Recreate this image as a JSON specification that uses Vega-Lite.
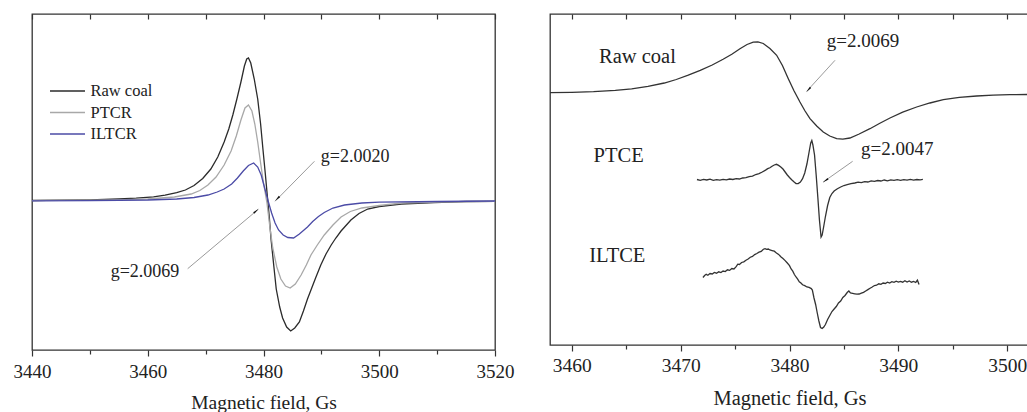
{
  "$schema": "https://vega.github.io/schema/vega-lite/v6.json",
  "padding": {"left": 12, "top": 12, "right": 0, "bottom": 0},
  "background": "white",
  "spacing": 55,
  "bounds": "flush",
  "config": {
    "view": {"stroke": "#333", "strokeWidth": 1.3},
    "font": "Liberation Serif"
  },
  "datasets": {
    "leftCurves": [
      {"s": "Raw coal", "x": 3440, "y": 0.5}, {"s": "Raw coal", "x": 3445, "y": 0.8}, {"s": "Raw coal", "x": 3450, "y": 1.2}, {"s": "Raw coal", "x": 3455, "y": 2}, {"s": "Raw coal", "x": 3458, "y": 2.8}, {"s": "Raw coal", "x": 3461, "y": 4.2}, {"s": "Raw coal", "x": 3463, "y": 5.8}, {"s": "Raw coal", "x": 3465, "y": 8.3}, {"s": "Raw coal", "x": 3466.5, "y": 11}, {"s": "Raw coal", "x": 3468, "y": 15.5}, {"s": "Raw coal", "x": 3469.5, "y": 22.5}, {"s": "Raw coal", "x": 3470.9, "y": 32}, {"s": "Raw coal", "x": 3472.1, "y": 44}, {"s": "Raw coal", "x": 3473.2, "y": 59}, {"s": "Raw coal", "x": 3474.0, "y": 72}, {"s": "Raw coal", "x": 3474.7, "y": 86}, {"s": "Raw coal", "x": 3475.4, "y": 102}, {"s": "Raw coal", "x": 3476.1, "y": 119}, {"s": "Raw coal", "x": 3476.7, "y": 135}, {"s": "Raw coal", "x": 3477.1, "y": 142}, {"s": "Raw coal", "x": 3477.4, "y": 143}, {"s": "Raw coal", "x": 3477.8, "y": 138}, {"s": "Raw coal", "x": 3478.4, "y": 122}, {"s": "Raw coal", "x": 3479.0, "y": 102}, {"s": "Raw coal", "x": 3479.5, "y": 77}, {"s": "Raw coal", "x": 3479.9, "y": 52}, {"s": "Raw coal", "x": 3480.3, "y": 28}, {"s": "Raw coal", "x": 3480.6, "y": 9}, {"s": "Raw coal", "x": 3481.0, "y": -16}, {"s": "Raw coal", "x": 3481.3, "y": -38}, {"s": "Raw coal", "x": 3481.8, "y": -66}, {"s": "Raw coal", "x": 3482.2, "y": -88}, {"s": "Raw coal", "x": 3482.8, "y": -106}, {"s": "Raw coal", "x": 3483.3, "y": -117}, {"s": "Raw coal", "x": 3484.0, "y": -126}, {"s": "Raw coal", "x": 3484.7, "y": -130}, {"s": "Raw coal", "x": 3485.4, "y": -127}, {"s": "Raw coal", "x": 3486.2, "y": -121}, {"s": "Raw coal", "x": 3486.9, "y": -110}, {"s": "Raw coal", "x": 3487.6, "y": -98}, {"s": "Raw coal", "x": 3488.2, "y": -89}, {"s": "Raw coal", "x": 3489.0, "y": -77}, {"s": "Raw coal", "x": 3489.9, "y": -64}, {"s": "Raw coal", "x": 3490.8, "y": -53}, {"s": "Raw coal", "x": 3491.7, "y": -44}, {"s": "Raw coal", "x": 3492.5, "y": -37}, {"s": "Raw coal", "x": 3493.4, "y": -30}, {"s": "Raw coal", "x": 3495.1, "y": -19}, {"s": "Raw coal", "x": 3496.5, "y": -12.5}, {"s": "Raw coal", "x": 3498.0, "y": -8}, {"s": "Raw coal", "x": 3500, "y": -5.5}, {"s": "Raw coal", "x": 3503.8, "y": -3}, {"s": "Raw coal", "x": 3509.5, "y": -1.5}, {"s": "Raw coal", "x": 3515, "y": -0.5}, {"s": "Raw coal", "x": 3520, "y": -0.3},
      {"s": "PTCR", "x": 3440, "y": 0.3}, {"s": "PTCR", "x": 3450, "y": 0.8}, {"s": "PTCR", "x": 3455, "y": 1.2}, {"s": "PTCR", "x": 3460, "y": 2}, {"s": "PTCR", "x": 3464.6, "y": 4}, {"s": "PTCR", "x": 3467.5, "y": 7}, {"s": "PTCR", "x": 3469, "y": 10.5}, {"s": "PTCR", "x": 3470.4, "y": 16}, {"s": "PTCR", "x": 3471.8, "y": 24}, {"s": "PTCR", "x": 3473.2, "y": 36}, {"s": "PTCR", "x": 3474.4, "y": 50}, {"s": "PTCR", "x": 3475.3, "y": 65}, {"s": "PTCR", "x": 3476.1, "y": 81}, {"s": "PTCR", "x": 3476.8, "y": 93}, {"s": "PTCR", "x": 3477.4, "y": 96}, {"s": "PTCR", "x": 3478.0, "y": 90}, {"s": "PTCR", "x": 3478.5, "y": 77}, {"s": "PTCR", "x": 3479.0, "y": 59}, {"s": "PTCR", "x": 3479.5, "y": 38}, {"s": "PTCR", "x": 3480.0, "y": 18}, {"s": "PTCR", "x": 3480.6, "y": -2}, {"s": "PTCR", "x": 3481.1, "y": -26}, {"s": "PTCR", "x": 3481.6, "y": -47}, {"s": "PTCR", "x": 3482.3, "y": -66}, {"s": "PTCR", "x": 3483.0, "y": -78}, {"s": "PTCR", "x": 3483.8, "y": -85}, {"s": "PTCR", "x": 3484.6, "y": -87}, {"s": "PTCR", "x": 3485.5, "y": -83}, {"s": "PTCR", "x": 3486.5, "y": -74}, {"s": "PTCR", "x": 3487.4, "y": -64}, {"s": "PTCR", "x": 3488.2, "y": -54}, {"s": "PTCR", "x": 3489.3, "y": -44}, {"s": "PTCR", "x": 3490.5, "y": -34}, {"s": "PTCR", "x": 3492, "y": -24}, {"s": "PTCR", "x": 3493.4, "y": -16}, {"s": "PTCR", "x": 3495, "y": -10.5}, {"s": "PTCR", "x": 3497, "y": -7}, {"s": "PTCR", "x": 3500, "y": -4.5}, {"s": "PTCR", "x": 3504, "y": -2}, {"s": "PTCR", "x": 3510, "y": -1}, {"s": "PTCR", "x": 3520, "y": -0.3},
      {"s": "ILTCR", "x": 3440, "y": 0.2}, {"s": "ILTCR", "x": 3450, "y": 0.4}, {"s": "ILTCR", "x": 3460, "y": 1}, {"s": "ILTCR", "x": 3465, "y": 2}, {"s": "ILTCR", "x": 3468, "y": 3.5}, {"s": "ILTCR", "x": 3470.4, "y": 6}, {"s": "ILTCR", "x": 3472, "y": 9}, {"s": "ILTCR", "x": 3473.2, "y": 12}, {"s": "ILTCR", "x": 3474.5, "y": 17}, {"s": "ILTCR", "x": 3475.5, "y": 23}, {"s": "ILTCR", "x": 3476.5, "y": 30}, {"s": "ILTCR", "x": 3477.4, "y": 35.5}, {"s": "ILTCR", "x": 3478.3, "y": 38}, {"s": "ILTCR", "x": 3479.0, "y": 34}, {"s": "ILTCR", "x": 3479.6, "y": 26}, {"s": "ILTCR", "x": 3480.2, "y": 13}, {"s": "ILTCR", "x": 3480.8, "y": 0}, {"s": "ILTCR", "x": 3481.4, "y": -12}, {"s": "ILTCR", "x": 3482.0, "y": -22}, {"s": "ILTCR", "x": 3482.6, "y": -29}, {"s": "ILTCR", "x": 3483.4, "y": -34}, {"s": "ILTCR", "x": 3484.2, "y": -36.5}, {"s": "ILTCR", "x": 3485.2, "y": -37}, {"s": "ILTCR", "x": 3486.2, "y": -33}, {"s": "ILTCR", "x": 3487.0, "y": -29}, {"s": "ILTCR", "x": 3487.6, "y": -26}, {"s": "ILTCR", "x": 3488.5, "y": -20.5}, {"s": "ILTCR", "x": 3489.5, "y": -15.5}, {"s": "ILTCR", "x": 3490.5, "y": -11.5}, {"s": "ILTCR", "x": 3492, "y": -7}, {"s": "ILTCR", "x": 3494, "y": -4}, {"s": "ILTCR", "x": 3497, "y": -2}, {"s": "ILTCR", "x": 3500, "y": -1.2}, {"s": "ILTCR", "x": 3510, "y": -0.5}, {"s": "ILTCR", "x": 3520, "y": 0}
    ],
    "leftArrows": [
      {"x": 3488.8, "y": 39.7, "x2": 3482.0, "y2": -0.3},
      {"x": 3466.9, "y": -67.7, "x2": 3479.1, "y2": -8.3}
    ],
    "leftHeads": [
      {"x": 3482.5, "y": 3, "ang": 225},
      {"x": 3478.6, "y": -10.6, "ang": 50}
    ],
    "leftNotes": [
      {"x": 3489.9, "y": 44, "t": "g=2.0020"},
      {"x": 3453.6, "y": -71, "t": "g=2.0069"}
    ],
    "rightCurves": [
      {"s": "Raw coal", "x": 3458.0, "y": 252.3}, {"s": "Raw coal", "x": 3460.0, "y": 252.7}, {"s": "Raw coal", "x": 3462.0, "y": 253.3}, {"s": "Raw coal", "x": 3464.0, "y": 254.6}, {"s": "Raw coal", "x": 3465.5, "y": 256.2}, {"s": "Raw coal", "x": 3467.0, "y": 258.6}, {"s": "Raw coal", "x": 3468.5, "y": 262.0}, {"s": "Raw coal", "x": 3469.6, "y": 265.5}, {"s": "Raw coal", "x": 3470.7, "y": 269.8}, {"s": "Raw coal", "x": 3471.8, "y": 274.7}, {"s": "Raw coal", "x": 3472.9, "y": 280.0}, {"s": "Raw coal", "x": 3473.9, "y": 285.7}, {"s": "Raw coal", "x": 3474.7, "y": 290.8}, {"s": "Raw coal", "x": 3475.45, "y": 296.3}, {"s": "Raw coal", "x": 3476.1, "y": 300.5}, {"s": "Raw coal", "x": 3476.67, "y": 302.8}, {"s": "Raw coal", "x": 3477.1, "y": 303.2}, {"s": "Raw coal", "x": 3477.59, "y": 301.5}, {"s": "Raw coal", "x": 3478.2, "y": 296.5}, {"s": "Raw coal", "x": 3478.82, "y": 289.7}, {"s": "Raw coal", "x": 3479.35, "y": 279.5}, {"s": "Raw coal", "x": 3479.89, "y": 266.3}, {"s": "Raw coal", "x": 3480.4, "y": 254.5}, {"s": "Raw coal", "x": 3480.96, "y": 243.0}, {"s": "Raw coal", "x": 3481.4, "y": 234.5}, {"s": "Raw coal", "x": 3481.88, "y": 226.3}, {"s": "Raw coal", "x": 3482.5, "y": 219.0}, {"s": "Raw coal", "x": 3483.1, "y": 213.0}, {"s": "Raw coal", "x": 3483.7, "y": 209.0}, {"s": "Raw coal", "x": 3484.33, "y": 206.3}, {"s": "Raw coal", "x": 3484.9, "y": 205.9}, {"s": "Raw coal", "x": 3485.55, "y": 207.0}, {"s": "Raw coal", "x": 3486.4, "y": 211.0}, {"s": "Raw coal", "x": 3487.39, "y": 216.3}, {"s": "Raw coal", "x": 3488.3, "y": 221.7}, {"s": "Raw coal", "x": 3489.23, "y": 227.0}, {"s": "Raw coal", "x": 3490.4, "y": 232.8}, {"s": "Raw coal", "x": 3491.68, "y": 238.0}, {"s": "Raw coal", "x": 3492.9, "y": 242.0}, {"s": "Raw coal", "x": 3494.13, "y": 245.3}, {"s": "Raw coal", "x": 3495.6, "y": 247.6}, {"s": "Raw coal", "x": 3497.19, "y": 249.0}, {"s": "Raw coal", "x": 3498.7, "y": 249.9}, {"s": "Raw coal", "x": 3500.25, "y": 250.3}, {"s": "Raw coal", "x": 3501.9, "y": 250.5},
      {"s": "PTCE", "x": 3471.5, "y": 165.5}, {"s": "PTCE", "x": 3471.8, "y": 164.6}, {"s": "PTCE", "x": 3472.1, "y": 165.6}, {"s": "PTCE", "x": 3472.4, "y": 165.0}, {"s": "PTCE", "x": 3472.7, "y": 165.8}, {"s": "PTCE", "x": 3473.0, "y": 164.7}, {"s": "PTCE", "x": 3473.3, "y": 165.4}, {"s": "PTCE", "x": 3473.6, "y": 164.8}, {"s": "PTCE", "x": 3473.9, "y": 165.6}, {"s": "PTCE", "x": 3474.2, "y": 165.1}, {"s": "PTCE", "x": 3474.5, "y": 166.0}, {"s": "PTCE", "x": 3474.8, "y": 165.5}, {"s": "PTCE", "x": 3475.1, "y": 166.4}, {"s": "PTCE", "x": 3475.4, "y": 166.0}, {"s": "PTCE", "x": 3475.7, "y": 167.0}, {"s": "PTCE", "x": 3476.0, "y": 167.3}, {"s": "PTCE", "x": 3476.3, "y": 168.4}, {"s": "PTCE", "x": 3476.6, "y": 168.8}, {"s": "PTCE", "x": 3476.9, "y": 170.5}, {"s": "PTCE", "x": 3477.2, "y": 171.4}, {"s": "PTCE", "x": 3477.5, "y": 173.0}, {"s": "PTCE", "x": 3477.8, "y": 174.9}, {"s": "PTCE", "x": 3478.0, "y": 176.3}, {"s": "PTCE", "x": 3478.2, "y": 177.2}, {"s": "PTCE", "x": 3478.4, "y": 178.8}, {"s": "PTCE", "x": 3478.6, "y": 180.0}, {"s": "PTCE", "x": 3478.8, "y": 180.7}, {"s": "PTCE", "x": 3479.0, "y": 179.6}, {"s": "PTCE", "x": 3479.2, "y": 178.0}, {"s": "PTCE", "x": 3479.4, "y": 176.0}, {"s": "PTCE", "x": 3479.6, "y": 173.0}, {"s": "PTCE", "x": 3479.8, "y": 170.0}, {"s": "PTCE", "x": 3480.0, "y": 167.5}, {"s": "PTCE", "x": 3480.2, "y": 165.3}, {"s": "PTCE", "x": 3480.4, "y": 163.2}, {"s": "PTCE", "x": 3480.6, "y": 161.5}, {"s": "PTCE", "x": 3480.8, "y": 161.4}, {"s": "PTCE", "x": 3481.0, "y": 163.0}, {"s": "PTCE", "x": 3481.2, "y": 166.3}, {"s": "PTCE", "x": 3481.4, "y": 172.0}, {"s": "PTCE", "x": 3481.6, "y": 181.0}, {"s": "PTCE", "x": 3481.8, "y": 193.0}, {"s": "PTCE", "x": 3481.95, "y": 202.0}, {"s": "PTCE", "x": 3482.05, "y": 204.5}, {"s": "PTCE", "x": 3482.15, "y": 200.0}, {"s": "PTCE", "x": 3482.3, "y": 190.0}, {"s": "PTCE", "x": 3482.45, "y": 170.0}, {"s": "PTCE", "x": 3482.6, "y": 148.0}, {"s": "PTCE", "x": 3482.75, "y": 125.0}, {"s": "PTCE", "x": 3482.9, "y": 108.0}, {"s": "PTCE", "x": 3483.0, "y": 110.0}, {"s": "PTCE", "x": 3483.15, "y": 119.0}, {"s": "PTCE", "x": 3483.3, "y": 128.5}, {"s": "PTCE", "x": 3483.5, "y": 139.5}, {"s": "PTCE", "x": 3483.7, "y": 147.5}, {"s": "PTCE", "x": 3483.9, "y": 151.5}, {"s": "PTCE", "x": 3484.1, "y": 154.0}, {"s": "PTCE", "x": 3484.4, "y": 156.3}, {"s": "PTCE", "x": 3484.7, "y": 158.0}, {"s": "PTCE", "x": 3485.0, "y": 159.5}, {"s": "PTCE", "x": 3485.3, "y": 160.3}, {"s": "PTCE", "x": 3485.65, "y": 161.3}, {"s": "PTCE", "x": 3486.0, "y": 162.0}, {"s": "PTCE", "x": 3486.3, "y": 162.8}, {"s": "PTCE", "x": 3486.6, "y": 162.3}, {"s": "PTCE", "x": 3486.9, "y": 163.4}, {"s": "PTCE", "x": 3487.2, "y": 163.0}, {"s": "PTCE", "x": 3487.5, "y": 164.2}, {"s": "PTCE", "x": 3487.8, "y": 163.6}, {"s": "PTCE", "x": 3488.1, "y": 164.5}, {"s": "PTCE", "x": 3488.4, "y": 164.0}, {"s": "PTCE", "x": 3488.7, "y": 165.0}, {"s": "PTCE", "x": 3489.0, "y": 164.2}, {"s": "PTCE", "x": 3489.3, "y": 165.1}, {"s": "PTCE", "x": 3489.6, "y": 164.6}, {"s": "PTCE", "x": 3489.9, "y": 165.3}, {"s": "PTCE", "x": 3490.2, "y": 164.7}, {"s": "PTCE", "x": 3490.5, "y": 165.4}, {"s": "PTCE", "x": 3490.8, "y": 164.9}, {"s": "PTCE", "x": 3491.1, "y": 165.6}, {"s": "PTCE", "x": 3491.4, "y": 164.8}, {"s": "PTCE", "x": 3491.7, "y": 165.5}, {"s": "PTCE", "x": 3492.0, "y": 165.2}, {"s": "PTCE", "x": 3492.25, "y": 165.7},
      {"s": "ILTCE", "x": 3472.05, "y": 67.5}, {"s": "ILTCE", "x": 3472.2, "y": 69.5}, {"s": "ILTCE", "x": 3472.35, "y": 70.8}, {"s": "ILTCE", "x": 3472.5, "y": 69.8}, {"s": "ILTCE", "x": 3472.7, "y": 71.5}, {"s": "ILTCE", "x": 3472.9, "y": 71.0}, {"s": "ILTCE", "x": 3473.1, "y": 72.6}, {"s": "ILTCE", "x": 3473.3, "y": 71.8}, {"s": "ILTCE", "x": 3473.5, "y": 73.2}, {"s": "ILTCE", "x": 3473.7, "y": 72.5}, {"s": "ILTCE", "x": 3473.9, "y": 74.0}, {"s": "ILTCE", "x": 3474.1, "y": 73.4}, {"s": "ILTCE", "x": 3474.3, "y": 75.2}, {"s": "ILTCE", "x": 3474.5, "y": 74.6}, {"s": "ILTCE", "x": 3474.7, "y": 76.5}, {"s": "ILTCE", "x": 3474.9, "y": 76.0}, {"s": "ILTCE", "x": 3475.1, "y": 78.3}, {"s": "ILTCE", "x": 3475.25, "y": 80.8}, {"s": "ILTCE", "x": 3475.4, "y": 80.5}, {"s": "ILTCE", "x": 3475.6, "y": 82.5}, {"s": "ILTCE", "x": 3475.8, "y": 83.2}, {"s": "ILTCE", "x": 3476.0, "y": 84.8}, {"s": "ILTCE", "x": 3476.2, "y": 86.0}, {"s": "ILTCE", "x": 3476.4, "y": 87.8}, {"s": "ILTCE", "x": 3476.6, "y": 88.6}, {"s": "ILTCE", "x": 3476.8, "y": 90.4}, {"s": "ILTCE", "x": 3477.0, "y": 91.5}, {"s": "ILTCE", "x": 3477.2, "y": 92.8}, {"s": "ILTCE", "x": 3477.4, "y": 93.6}, {"s": "ILTCE", "x": 3477.6, "y": 95.8}, {"s": "ILTCE", "x": 3477.75, "y": 96.4}, {"s": "ILTCE", "x": 3477.9, "y": 95.6}, {"s": "ILTCE", "x": 3478.05, "y": 96.0}, {"s": "ILTCE", "x": 3478.2, "y": 95.0}, {"s": "ILTCE", "x": 3478.4, "y": 94.4}, {"s": "ILTCE", "x": 3478.6, "y": 93.8}, {"s": "ILTCE", "x": 3478.8, "y": 92.0}, {"s": "ILTCE", "x": 3479.0, "y": 90.6}, {"s": "ILTCE", "x": 3479.2, "y": 88.2}, {"s": "ILTCE", "x": 3479.4, "y": 86.5}, {"s": "ILTCE", "x": 3479.6, "y": 84.4}, {"s": "ILTCE", "x": 3479.8, "y": 82.0}, {"s": "ILTCE", "x": 3480.0, "y": 79.4}, {"s": "ILTCE", "x": 3480.15, "y": 76.0}, {"s": "ILTCE", "x": 3480.3, "y": 73.8}, {"s": "ILTCE", "x": 3480.45, "y": 70.5}, {"s": "ILTCE", "x": 3480.6, "y": 68.0}, {"s": "ILTCE", "x": 3480.75, "y": 65.8}, {"s": "ILTCE", "x": 3480.9, "y": 63.2}, {"s": "ILTCE", "x": 3481.05, "y": 62.0}, {"s": "ILTCE", "x": 3481.2, "y": 60.2}, {"s": "ILTCE", "x": 3481.4, "y": 59.4}, {"s": "ILTCE", "x": 3481.6, "y": 58.0}, {"s": "ILTCE", "x": 3481.8, "y": 57.6}, {"s": "ILTCE", "x": 3482.0, "y": 56.4}, {"s": "ILTCE", "x": 3482.1, "y": 55.0}, {"s": "ILTCE", "x": 3482.25, "y": 47.0}, {"s": "ILTCE", "x": 3482.4, "y": 40.5}, {"s": "ILTCE", "x": 3482.55, "y": 32.0}, {"s": "ILTCE", "x": 3482.7, "y": 24.0}, {"s": "ILTCE", "x": 3482.85, "y": 17.5}, {"s": "ILTCE", "x": 3483.0, "y": 16.5}, {"s": "ILTCE", "x": 3483.15, "y": 18.0}, {"s": "ILTCE", "x": 3483.3, "y": 20.5}, {"s": "ILTCE", "x": 3483.5, "y": 25.5}, {"s": "ILTCE", "x": 3483.7, "y": 29.5}, {"s": "ILTCE", "x": 3483.9, "y": 33.5}, {"s": "ILTCE", "x": 3484.1, "y": 36.0}, {"s": "ILTCE", "x": 3484.3, "y": 38.5}, {"s": "ILTCE", "x": 3484.5, "y": 42.0}, {"s": "ILTCE", "x": 3484.7, "y": 44.0}, {"s": "ILTCE", "x": 3484.9, "y": 47.5}, {"s": "ILTCE", "x": 3485.1, "y": 49.5}, {"s": "ILTCE", "x": 3485.3, "y": 52.5}, {"s": "ILTCE", "x": 3485.45, "y": 54.0}, {"s": "ILTCE", "x": 3485.6, "y": 52.0}, {"s": "ILTCE", "x": 3485.8, "y": 51.6}, {"s": "ILTCE", "x": 3486.0, "y": 51.2}, {"s": "ILTCE", "x": 3486.2, "y": 50.8}, {"s": "ILTCE", "x": 3486.4, "y": 51.0}, {"s": "ILTCE", "x": 3486.6, "y": 51.8}, {"s": "ILTCE", "x": 3486.8, "y": 52.6}, {"s": "ILTCE", "x": 3487.0, "y": 54.0}, {"s": "ILTCE", "x": 3487.2, "y": 55.4}, {"s": "ILTCE", "x": 3487.4, "y": 56.8}, {"s": "ILTCE", "x": 3487.6, "y": 58.0}, {"s": "ILTCE", "x": 3487.8, "y": 59.5}, {"s": "ILTCE", "x": 3488.0, "y": 59.8}, {"s": "ILTCE", "x": 3488.2, "y": 61.2}, {"s": "ILTCE", "x": 3488.4, "y": 60.6}, {"s": "ILTCE", "x": 3488.6, "y": 62.0}, {"s": "ILTCE", "x": 3488.8, "y": 61.5}, {"s": "ILTCE", "x": 3489.0, "y": 62.8}, {"s": "ILTCE", "x": 3489.2, "y": 62.0}, {"s": "ILTCE", "x": 3489.4, "y": 63.4}, {"s": "ILTCE", "x": 3489.6, "y": 62.6}, {"s": "ILTCE", "x": 3489.8, "y": 63.8}, {"s": "ILTCE", "x": 3490.0, "y": 62.9}, {"s": "ILTCE", "x": 3490.2, "y": 63.6}, {"s": "ILTCE", "x": 3490.4, "y": 62.8}, {"s": "ILTCE", "x": 3490.6, "y": 64.2}, {"s": "ILTCE", "x": 3490.8, "y": 63.0}, {"s": "ILTCE", "x": 3491.0, "y": 64.0}, {"s": "ILTCE", "x": 3491.2, "y": 62.8}, {"s": "ILTCE", "x": 3491.4, "y": 63.6}, {"s": "ILTCE", "x": 3491.6, "y": 62.5}, {"s": "ILTCE", "x": 3491.75, "y": 64.8}, {"s": "ILTCE", "x": 3491.9, "y": 60.5}
    ],
    "rightArrows": [
      {"x": 3484.18, "y": 284.7, "x2": 3481.58, "y2": 253.7},
      {"x": 3485.8, "y": 183.7, "x2": 3483.1, "y2": 163}
    ],
    "rightHeads": [
      {"x": 3481.8, "y": 256, "ang": 222},
      {"x": 3483.38, "y": 165, "ang": 235}
    ],
    "rightNotes": [
      {"x": 3462.5, "y": 288, "t": "Raw coal", "fs": 20.5},
      {"x": 3462.0, "y": 189, "t": "PTCE", "fs": 20.5},
      {"x": 3461.6, "y": 89, "t": "ILTCE", "fs": 20.5},
      {"x": 3483.43, "y": 303.7, "t": "g=2.0069", "fs": 19},
      {"x": 3486.56, "y": 196.3, "t": "g=2.0047", "fs": 19}
    ]
  },
  "hconcat": [
    {
      "width": 463,
      "height": 336,
      "resolve": {"axis": {"x": "independent"}},
      "layer": [
        {
          "data": {"name": "leftCurves"},
          "mark": {"type": "line", "strokeWidth": 1.3},
          "encoding": {
            "x": {
              "field": "x", "type": "quantitative",
              "scale": {"domain": [3440, 3520], "nice": false, "zero": false},
              "axis": {
                "orient": "bottom",
                "values": [3440, 3450, 3460, 3470, 3480, 3490, 3500, 3510, 3520],
                "format": "d",
                "labelExpr": "datum.value % 20 === 0 ? datum.label : ''",
                "tickSize": {"condition": {"test": "datum.value % 20 === 0", "value": 6}, "value": 4},
                "tickColor": "#333", "tickWidth": 1.2,
                "domain": false, "grid": false,
                "labelFlush": false, "labelOverlap": false, "labelBound": false,
                "labelFont": "Liberation Serif", "labelFontSize": 19, "labelColor": "#222", "labelPadding": 6,
                "title": "Magnetic field, Gs", "titleFont": "Liberation Serif", "titleFontSize": 19.5,
                "titleFontWeight": "normal", "titleColor": "#222", "titlePadding": 12
              }
            },
            "y": {"field": "y", "type": "quantitative", "scale": {"domain": [-149, 187], "nice": false, "zero": false}, "axis": null},
            "color": {
              "field": "s", "type": "nominal",
              "scale": {"domain": ["Raw coal", "PTCR", "ILTCR"], "range": ["#2b2b2b", "#a8a8a8", "#4b4ba6"]},
              "legend": {
                "orient": "none", "legendX": 26, "legendY": 67.5, "title": null,
                "symbolType": "M-2,0H2", "symbolSize": 306, "symbolStrokeWidth": 1.5,
                "symbolFillColor": "transparent",
                "labelFont": "Liberation Serif", "labelFontSize": 16.5, "labelColor": "#222",
                "labelOffset": 13.5, "rowPadding": 3.5, "padding": 0
              }
            }
          }
        },
        {
          "data": {"name": "leftArrows"},
          "mark": {"type": "rule", "color": "#9a9a9a", "strokeWidth": 1},
          "encoding": {
            "x": {
              "field": "x", "type": "quantitative",
              "scale": {"domain": [3440, 3520], "nice": false, "zero": false},
              "axis": {
                "orient": "top", "offset": -5,
                "values": [3440, 3450, 3460, 3470, 3480, 3490, 3500, 3510, 3520],
                "labels": false, "title": null, "domain": false, "grid": false,
                "tickSize": 5, "tickColor": "#333", "tickWidth": 1.2
              }
            },
            "y": {"field": "y", "type": "quantitative", "scale": {"domain": [-149, 187], "nice": false, "zero": false}, "axis": null},
            "x2": {"field": "x2"},
            "y2": {"field": "y2"}
          }
        },
        {
          "data": {"name": "leftHeads"},
          "mark": {"type": "point", "shape": "wedge", "filled": true, "size": 55, "color": "#111", "opacity": 1},
          "encoding": {
            "x": {"field": "x", "type": "quantitative", "scale": {"domain": [3440, 3520], "nice": false, "zero": false}, "axis": null},
            "y": {"field": "y", "type": "quantitative", "scale": {"domain": [-149, 187], "nice": false, "zero": false}, "axis": null},
            "angle": {"field": "ang", "type": "quantitative", "scale": null}
          }
        },
        {
          "data": {"name": "leftNotes"},
          "mark": {"type": "text", "align": "left", "baseline": "middle", "font": "Liberation Serif", "fontSize": 18, "color": "#222"},
          "encoding": {
            "x": {"field": "x", "type": "quantitative", "scale": {"domain": [3440, 3520], "nice": false, "zero": false}, "axis": null},
            "y": {"field": "y", "type": "quantitative", "scale": {"domain": [-149, 187], "nice": false, "zero": false}, "axis": null},
            "text": {"field": "t"}
          }
        }
      ]
    },
    {
      "width": 479,
      "height": 331,
      "resolve": {"axis": {"x": "independent"}},
      "layer": [
        {
          "data": {"name": "rightCurves"},
          "mark": {"type": "line", "strokeWidth": 1.3, "color": "#333"},
          "encoding": {
            "x": {
              "field": "x", "type": "quantitative",
              "scale": {"domain": [3458, 3502], "nice": false, "zero": false},
              "axis": {
                "orient": "bottom",
                "values": [3460, 3465, 3470, 3475, 3480, 3485, 3490, 3495, 3500],
                "format": "d",
                "labelExpr": "datum.value % 10 === 0 ? datum.label : ''",
                "tickSize": {"condition": {"test": "datum.value % 10 === 0", "value": 6}, "value": 4},
                "tickColor": "#333", "tickWidth": 1.2,
                "domain": false, "grid": false,
                "labelFlush": false, "labelOverlap": false, "labelBound": false,
                "labelFont": "Liberation Serif", "labelFontSize": 19.5, "labelColor": "#222", "labelPadding": 5,
                "title": "Magnetic field, Gs", "titleFont": "Liberation Serif", "titleFontSize": 20.5,
                "titleFontWeight": "normal", "titleColor": "#222", "titlePadding": 14
              }
            },
            "y": {"field": "y", "type": "quantitative", "scale": {"domain": [0, 331], "nice": false, "zero": false}, "axis": null},
            "detail": {"field": "s", "type": "nominal"}
          }
        },
        {
          "data": {"name": "rightArrows"},
          "mark": {"type": "rule", "color": "#9a9a9a", "strokeWidth": 1},
          "encoding": {
            "x": {
              "field": "x", "type": "quantitative",
              "scale": {"domain": [3458, 3502], "nice": false, "zero": false},
              "axis": {
                "orient": "top", "offset": -5,
                "values": [3460, 3465, 3470, 3475, 3480, 3485, 3490, 3495, 3500],
                "labels": false, "title": null, "domain": false, "grid": false,
                "tickSize": 5, "tickColor": "#333", "tickWidth": 1.2
              }
            },
            "y": {"field": "y", "type": "quantitative", "scale": {"domain": [0, 331], "nice": false, "zero": false}, "axis": null},
            "x2": {"field": "x2"},
            "y2": {"field": "y2"}
          }
        },
        {
          "data": {"name": "rightHeads"},
          "mark": {"type": "point", "shape": "wedge", "filled": true, "size": 55, "color": "#111", "opacity": 1},
          "encoding": {
            "x": {"field": "x", "type": "quantitative", "scale": {"domain": [3458, 3502], "nice": false, "zero": false}, "axis": null},
            "y": {"field": "y", "type": "quantitative", "scale": {"domain": [0, 331], "nice": false, "zero": false}, "axis": null},
            "angle": {"field": "ang", "type": "quantitative", "scale": null}
          }
        },
        {
          "data": {"name": "rightNotes"},
          "mark": {"type": "text", "align": "left", "baseline": "middle", "font": "Liberation Serif", "color": "#222"},
          "encoding": {
            "x": {"field": "x", "type": "quantitative", "scale": {"domain": [3458, 3502], "nice": false, "zero": false}, "axis": null},
            "y": {"field": "y", "type": "quantitative", "scale": {"domain": [0, 331], "nice": false, "zero": false}, "axis": null},
            "text": {"field": "t"},
            "size": {"field": "fs", "type": "quantitative", "scale": null}
          }
        }
      ]
    }
  ]
}
